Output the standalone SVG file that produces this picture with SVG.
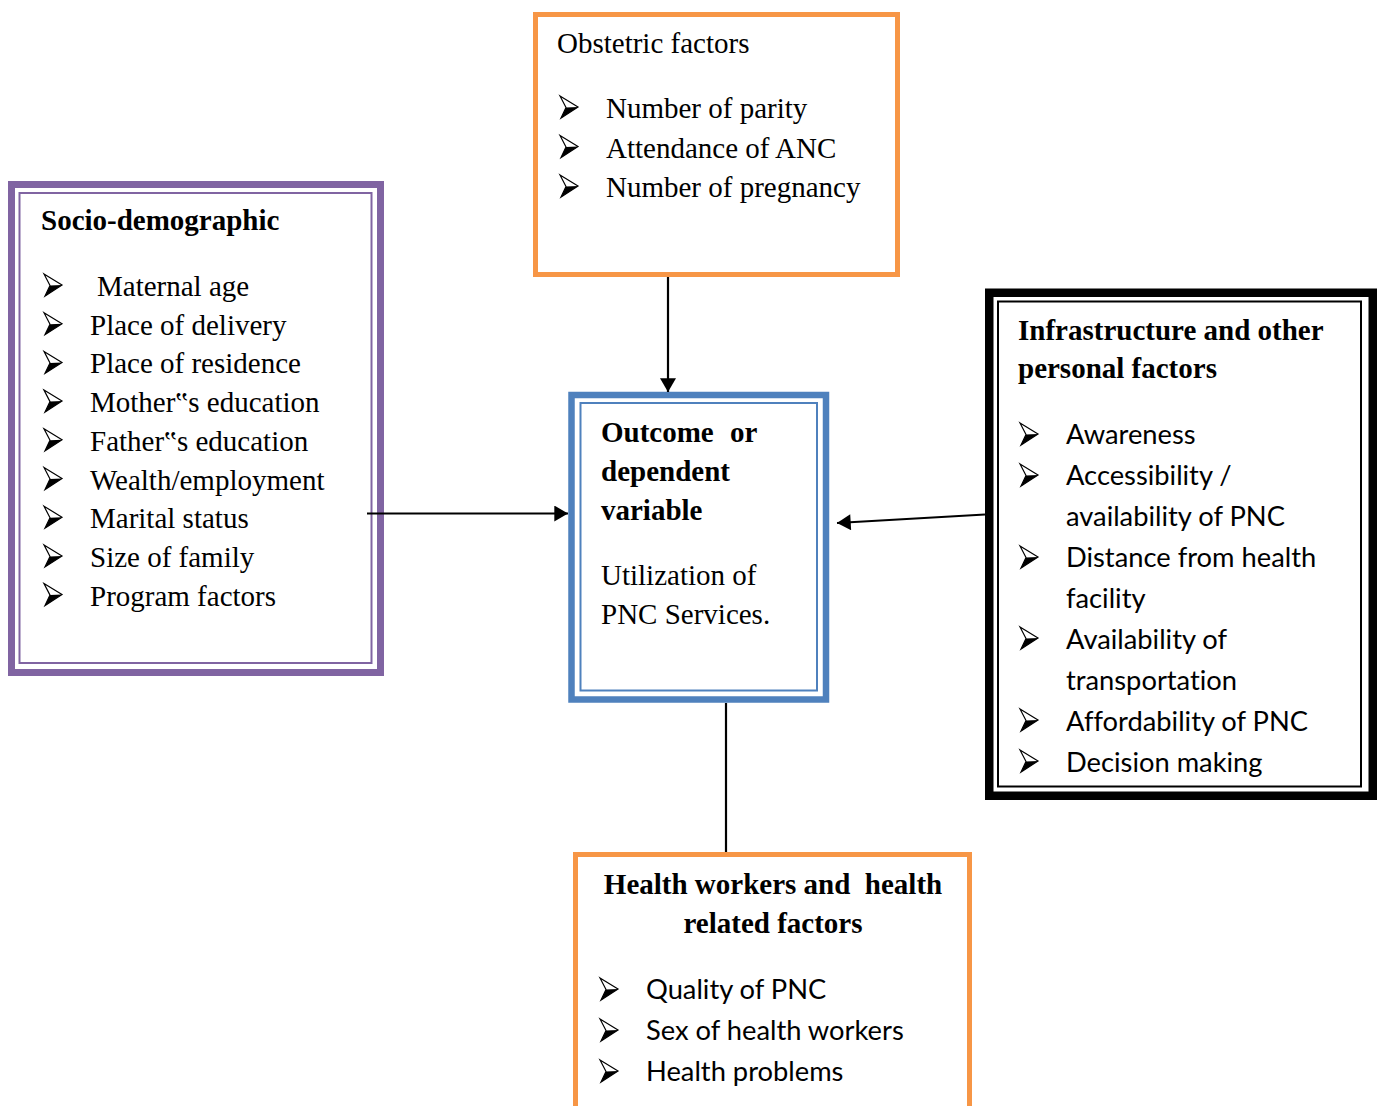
<svg xmlns="http://www.w3.org/2000/svg" xmlns:xlink="http://www.w3.org/1999/xlink" width="1383" height="1106" viewBox="0 0 1383 1106">
  <defs>
    <style>
      .serif { font-family: "Liberation Serif", "Times New Roman", serif; font-size: 29px; fill: #000; }
      .bold { font-weight: bold; }
      .sans { font-family: Lato, "Liberation Sans", sans-serif; font-size: 27.3px; fill: #000; font-variant-ligatures: none; }
      .frame { fill: #fff; }
      .thin { fill: none; stroke-width: 2; }
      .purple { stroke: #8064A2; }
      .orange { stroke: #F79646; }
      .blue { stroke: #4F81BD; }
      .black { stroke: #000; }
      .wire { stroke: #000; stroke-width: 2.2; fill: none; }
    </style>
    <!-- 3D arrowhead bullet, origin at the text baseline -->
    <g id="bul">
      <path d="M0,-22 L18,-11 L1,0 L6,-10.5 Z" fill="#fff" stroke="#000" stroke-width="1.2" stroke-linejoin="miter"/>
      <path d="M6,-10.5 L18,-11 L1,0 Z" fill="#000"/>
    </g>
    <marker id="arr" markerUnits="userSpaceOnUse" markerWidth="16" markerHeight="16" viewBox="0 0 12 14" refX="12" refY="7" orient="auto">
      <path d="M0,0 L12,7 L0,14 Z" fill="#000"/>
    </marker>
  </defs>

  <rect width="1383" height="1106" fill="#fff"/>

  <!-- socio-demographic factors -->
  <g id="socio">
    <rect class="frame purple" x="11.5" y="184.5" width="369" height="488" stroke-width="7"/>
    <rect class="thin purple" x="19.5" y="193" width="352" height="470"/>
    <text class="serif bold" x="41" y="230">Socio-demographic</text>
    <use href="#bul" x="44" y="296"/>
    <use href="#bul" x="44" y="334.7"/>
    <use href="#bul" x="44" y="373.4"/>
    <use href="#bul" x="44" y="412.1"/>
    <use href="#bul" x="44" y="450.8"/>
    <use href="#bul" x="44" y="489.5"/>
    <use href="#bul" x="44" y="528.2"/>
    <use href="#bul" x="44" y="566.9"/>
    <use href="#bul" x="44" y="605.6"/>
    <text class="serif" x="97" y="296">Maternal age</text>
    <text class="serif" x="90" y="334.7">Place of delivery</text>
    <text class="serif" x="90" y="373.4">Place of residence</text>
    <text class="serif" x="90" y="412.1">Mother‟s education</text>
    <text class="serif" x="90" y="450.8">Father‟s education</text>
    <text class="serif" x="90" y="489.5">Wealth/employment</text>
    <text class="serif" x="90" y="528.2">Marital status</text>
    <text class="serif" x="90" y="566.9">Size of family</text>
    <text class="serif" x="90" y="605.6">Program factors</text>
  </g>

  <!-- obstetric factors -->
  <g id="obstetric">
    <rect class="frame orange" x="535.5" y="14.5" width="362" height="260" stroke-width="5"/>
    <text class="serif" x="557" y="53">Obstetric factors</text>
    <use href="#bul" x="560" y="118"/>
    <use href="#bul" x="560" y="157.5"/>
    <use href="#bul" x="560" y="197"/>
    <text class="serif" x="606" y="118">Number of parity</text>
    <text class="serif" x="606" y="157.5">Attendance of ANC</text>
    <text class="serif" x="606" y="197">Number of pregnancy</text>
  </g>

  <!-- outcome -->
  <g id="outcome">
    <rect class="frame blue" x="571.5" y="395" width="254.5" height="304.5" stroke-width="6.5"/>
    <rect class="thin blue" x="580.5" y="403" width="236.5" height="287.5"/>
    <text class="serif bold" x="601" y="442">Outcome</text>
    <text class="serif bold" x="730" y="442">or</text>
    <text class="serif bold" x="601" y="481">dependent</text>
    <text class="serif bold" x="601" y="520">variable</text>
    <text class="serif" x="601" y="585">Utilization of</text>
    <text class="serif" x="601" y="624">PNC Services.</text>
  </g>

  <!-- infrastructure and personal factors -->
  <g id="infrastructure">
    <rect class="frame black" x="989.25" y="292.75" width="383.5" height="503" stroke-width="8.5"/>
    <rect class="thin black" x="998" y="301.5" width="363" height="485"/>
    <text class="serif bold" x="1018" y="340">Infrastructure and other</text>
    <text class="serif bold" x="1018" y="378">personal factors</text>
    <use href="#bul" x="1020" y="445"/>
    <use href="#bul" x="1020" y="486"/>
    <use href="#bul" x="1020" y="568"/>
    <use href="#bul" x="1020" y="649"/>
    <use href="#bul" x="1020" y="731"/>
    <use href="#bul" x="1020" y="772"/>
    <text class="sans" x="1066" y="444">Awareness</text>
    <text class="sans" x="1066" y="485">Accessibility /</text>
    <text class="sans" x="1066" y="526">availability of PNC</text>
    <text class="sans" x="1066" y="567">Distance from health</text>
    <text class="sans" x="1066" y="608">facility</text>
    <text class="sans" x="1066" y="649">Availability of</text>
    <text class="sans" x="1066" y="690">transportation</text>
    <text class="sans" x="1066" y="731">Affordability of PNC</text>
    <text class="sans" x="1066" y="772">Decision making</text>
  </g>

  <!-- health workers and health related factors -->
  <g id="health">
    <rect class="frame orange" x="575.5" y="854.5" width="394" height="300" stroke-width="5"/>
    <text class="serif bold" x="773" y="894" text-anchor="middle" xml:space="preserve">Health workers and  health</text>
    <text class="serif bold" x="773" y="933" text-anchor="middle">related factors</text>
    <use href="#bul" x="600" y="1000"/>
    <use href="#bul" x="600" y="1041"/>
    <use href="#bul" x="600" y="1082"/>
    <text class="sans" x="646" y="999">Quality of PNC</text>
    <text class="sans" x="646" y="1040">Sex of health workers</text>
    <text class="sans" x="646" y="1081">Health problems</text>
  </g>

  <!-- connectors, drawn over the frames -->
  <g id="connectors">
    <line class="wire" x1="668" y1="277" x2="668" y2="392" marker-end="url(#arr)"/>
    <line class="wire" x1="367" y1="513.5" x2="568" y2="513.5" marker-end="url(#arr)"/>
    <line class="wire" x1="985" y1="514.5" x2="837" y2="523" marker-end="url(#arr)"/>
    <line class="wire" x1="726" y1="703" x2="726" y2="852"/>
  </g>
</svg>
